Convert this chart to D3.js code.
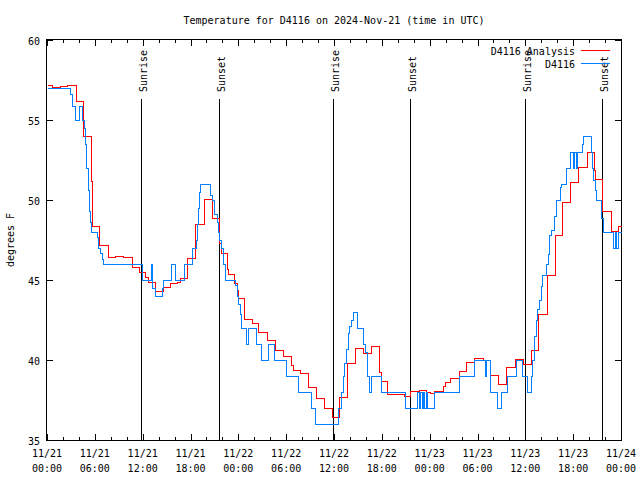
<!DOCTYPE html>
<html><head><meta charset="utf-8">
<script src="https://cdn.jsdelivr.net/npm/d3@7"></script>
<style>body{margin:0;background:#fff}svg{display:block}text{font-family:"DejaVu Sans Mono",monospace;font-size:10px;fill:#000}</style>
</head><body><svg id="c" width="640" height="480"></svg>
<script>
const title = "Temperature for D4116 on 2024-Nov-21 (time in UTC)";
const yLabel = "degrees F";
const seriesNames = ["D4116 Analysis", "D4116"];
const yTicks = [35, 40, 45, 50, 55, 60];
// hours since 2024-11-21 00:00 UTC
const analysisHours = [0,0.6,1.6,2.45,3.6,4.55,5.5,5.65,6.55,7.6,8.5,9.5,10.6,11.6,12.3,12.7,13.55,14.6,15.4,16.35,16.7,17.6,18.6,19.7,20.65,21.6,21.85,22.55,22.75,23.5,23.8,24.0,24.65,25.75,26.5,27.55,28.6,29.65,30.6,30.8,31.75,32.7,33.75,34.75,35.7,36.6,37.65,38.65,39.65,40.6,41.65,41.9,42.6,44.8,45.55,46.6,47.6,48.05,48.5,49.7,49.9,50.6,51.65,52.6,53.6,54.65,55.55,56.6,57.6,58.7,59.65,60.65,61.6,62.7,63.7,64.55,65.6,66.65,67.7,68.6,68.75,69.65,70.75,71.65,72];
const analysisTemps = [57.2,57.05,57.1,57.2,56.2,54.0,51.2,48.4,47.2,46.45,46.5,46.45,45.8,45.5,45.2,44.85,44.3,44.55,44.8,44.9,45.15,46.4,48.5,50.05,48.86,47.3,46.7,45.7,45.4,44.8,44.4,43.86,42.54,42.3,41.73,41.25,40.6,40.25,39.7,39.4,39.17,38.33,37.6,37.0,36.46,37.7,39.8,40.73,40.45,40.85,39.25,38.7,37.9,37.78,38.06,38.1,38.0,37.96,38.06,38.35,38.6,38.85,39.3,39.85,40.1,40.0,39.06,38.5,39.55,40.05,39.75,40.6,42.9,45.3,47.8,49.9,51.15,52.04,53.0,51.9,51.3,49.3,48.06,48.4,48.4];
const obsHours = [0,2.9,3.1,3.5,4.0,4.35,4.6,4.75,4.9,5.1,5.3,5.45,5.55,6.25,6.4,6.7,6.9,7.0,11.95,13.0,13.12,13.2,13.5,14.4,14.6,15.5,16.1,17.15,18.15,18.65,18.8,19.0,19.1,19.2,20.45,20.75,20.95,21.3,21.4,21.6,21.8,22.05,22.3,23.6,23.8,24.0,24.2,24.3,24.9,25.15,26.2,26.8,27.75,28.5,30.0,31.5,33.1,33.6,36.55,36.9,37.1,37.3,37.5,37.7,37.9,38.15,38.4,38.9,39.6,39.85,40.2,40.45,40.7,41.9,44.95,46.45,46.65,46.85,47.05,47.2,47.35,47.5,47.7,48.6,51.7,53.6,54.9,55.1,55.55,56.4,56.95,57.65,58.8,59.55,60.25,60.65,60.85,61.1,61.3,61.5,61.75,61.95,62.15,62.55,62.9,63.0,63.2,63.55,63.85,64.3,64.5,65.05,65.6,65.95,66.05,66.3,66.45,67.05,67.2,68.2,68.3,68.5,68.7,68.9,69.45,69.75,70.95,71.2,71.4,71.65,72];
const obsTemps = [57,56.6,55.9,55,55.9,55,54.5,53.5,52,50.6,49.3,48.6,48,47.7,47,46.7,46.3,46,45,46,45,44.5,44,44.5,45,46,45,46,47,47.5,48.5,49.5,50.5,51,50.3,50,49.1,48.6,48,47.5,47,46,45,44.7,44,43.5,42.9,42,41,42,41,40,41,40,39,38,37,36,37,38,39,39.8,40.7,41.7,42.1,42.5,43,42,41,40.5,39,38,39,38,37,38,37,38,37,38,37,38,37,38,39,40,39,40,38,37,38,39,40,39,38,39,40,41.5,42.5,43.2,43.75,44.6,45.3,46,46.6,47.8,48.1,49,50,50.8,51,52,53,52,53,52,53,53.5,54,53,52,51.25,50.6,50,48.9,48,47,48,47,48,48];
const sunLabels = ["Sunrise","Sunset","Sunrise","Sunset","Sunrise","Sunset"];
const sunHours = [11.8,21.6,35.9,45.55,60.0,69.65];

const t0 = Date.UTC(2024,10,21);
const toDate = h => new Date(t0 + h*3600e3);
const svg = d3.select("#c");
const L=47, R=621, T=40, B=440;
const x = d3.scaleUtc().domain([toDate(0), toDate(72)]).range([L, R]);
const y = d3.scaleLinear().domain([35, 60]).range([B, T]);

// sun lines
sunHours.forEach((h,i)=>{
  const xp = Math.round(x(toDate(h)))+0.5;
  svg.append("line").attr("x1",xp).attr("x2",xp).attr("y1",99).attr("y2",B)
    .attr("stroke","#000").attr("stroke-width",1).attr("shape-rendering","crispEdges");
  svg.append("text").attr("transform",`translate(${xp+5},92) rotate(-90)`)
    .attr("text-anchor","start").text(sunLabels[i]);
});

// frame
svg.append("rect").attr("x",L-0.5).attr("y",T-0.5).attr("width",R-L+1).attr("height",B-T+1)
  .attr("fill","none").attr("stroke","#000").attr("shape-rendering","crispEdges");

// x ticks
const minorT = d3.utcHour.every(2).range(toDate(0), toDate(72.01));
minorT.forEach(d=>{
  const major = d.getUTCHours()%6===0;
  const len = major?6:3;
  const xp = Math.round(x(d))+0.5;
  svg.append("line").attr("x1",xp).attr("x2",xp).attr("y1",B).attr("y2",B-len).attr("stroke","#000").attr("shape-rendering","crispEdges");
  svg.append("line").attr("x1",xp).attr("x2",xp).attr("y1",T).attr("y2",T+len).attr("stroke","#000").attr("shape-rendering","crispEdges");
});
const majorT = d3.utcHour.every(6).range(toDate(0), toDate(72.01));
const fmtD = d3.utcFormat("%m/%d"), fmtH = d3.utcFormat("%H:%M");
majorT.forEach(d=>{
  const xp = x(d);
  svg.append("text").attr("x",xp).attr("y",457).attr("text-anchor","middle").text(fmtD(d));
  svg.append("text").attr("x",xp).attr("y",472).attr("text-anchor","middle").text(fmtH(d));
});
// y ticks
yTicks.forEach(v=>{
  const yp = Math.round(y(v))+0.5;
  svg.append("line").attr("x1",L).attr("x2",L+6).attr("y1",yp).attr("y2",yp).attr("stroke","#000").attr("shape-rendering","crispEdges");
  svg.append("line").attr("x1",R-6).attr("x2",R).attr("y1",yp).attr("y2",yp).attr("stroke","#000").attr("shape-rendering","crispEdges");
  svg.append("text").attr("x",40).attr("y",yp+4).attr("text-anchor","end").text(v);
});

// title & y label
svg.append("text").attr("x",334).attr("y",24).attr("text-anchor","middle").text(title);
svg.append("text").attr("transform","translate(14,240) rotate(-90)").attr("text-anchor","middle").text(yLabel);

// series
const line = d3.line().curve(d3.curveStepAfter).x(d=>Math.round(x(d[0]))+0.5).y(d=>Math.round(y(d[1]))+0.5);
const aData = analysisHours.map((h,i)=>[toDate(h), analysisTemps[i]]);
const oData = obsHours.map((h,i)=>[toDate(h), obsTemps[i]]);
svg.append("path").attr("d",line(aData)).attr("fill","none").attr("stroke","#ff0000").attr("stroke-width",1).attr("shape-rendering","crispEdges");
svg.append("path").attr("d",line(oData)).attr("fill","none").attr("stroke","#0080ff").attr("stroke-width",1).attr("shape-rendering","crispEdges");

// legend
const leg = [[seriesNames[0],"#ff0000",50.5],[seriesNames[1],"#0080ff",63.5]];
leg.forEach(([n,c,yy])=>{
  svg.append("text").attr("x",575).attr("y",yy+4).attr("text-anchor","end").text(n);
  svg.append("line").attr("x1",581).attr("x2",610).attr("y1",yy).attr("y2",yy).attr("stroke",c).attr("shape-rendering","crispEdges");
});
</script></body></html>
